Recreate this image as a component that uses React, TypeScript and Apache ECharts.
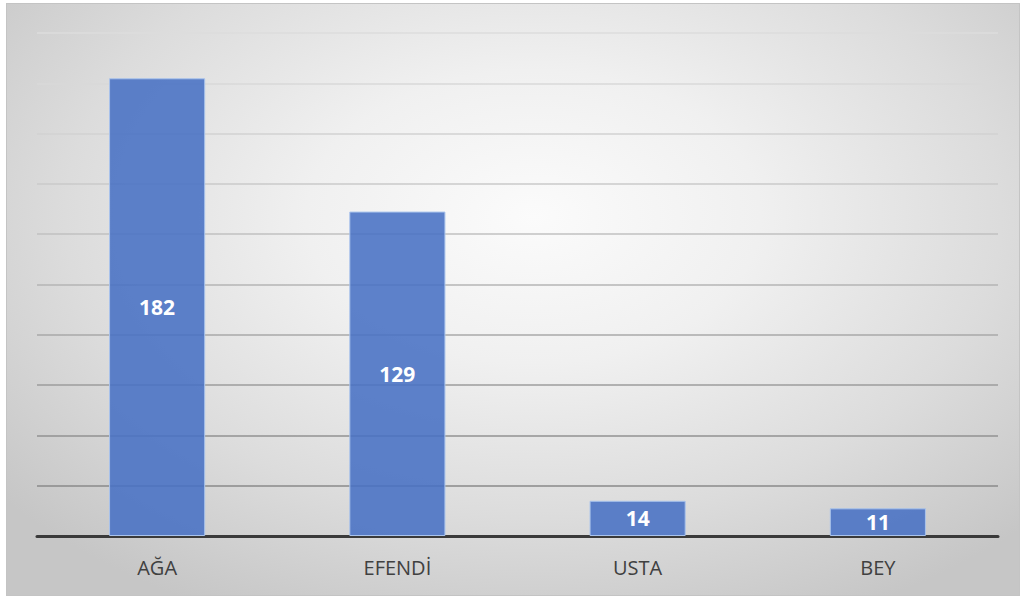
import React, { useEffect, useRef } from "react";
import * as echarts from "echarts";

const categories = ["AĞA", "EFENDİ", "USTA", "BEY"];
const values = [182, 129, 14, 11];
const gridColors = [
  "#dcdcdc", "#d8d8d8", "#d2d2d2", "#cacaca", "#c0c0c0",
  "#b4b4b4", "#a8a8a8", "#9c9c9c", "#929292", "#8a8a8a", "#8a8a8a",
];

export default function App() {
  const ref = useRef<HTMLDivElement>(null);
  useEffect(() => {
    if (!ref.current) return;
    const chart = echarts.init(ref.current, undefined, { renderer: "svg" });
    chart.setOption({
      animation: false,
      backgroundColor: "transparent",
      grid: { left: 37, right: 24, top: 33, bottom: 63 },
      xAxis: {
        type: "category",
        data: categories,
        axisTick: { show: false },
        axisLine: { lineStyle: { color: "#3a3a3a", width: 3 } },
        axisLabel: {
          color: "#404040",
          fontSize: 20,
          fontFamily: "Open Sans, sans-serif",
          margin: 21,
        },
      },
      yAxis: {
        type: "value",
        min: 0,
        max: 200,
        interval: 20,
        axisLabel: { show: false },
        axisLine: { show: false },
        axisTick: { show: false },
        splitLine: { lineStyle: { color: [...gridColors].reverse(), width: 1.5 } },
      },
      series: [
        {
          type: "bar",
          data: values,
          barWidth: "40%",
          itemStyle: {
            color: "rgba(72,113,196,0.88)",
            borderColor: "#a9c3ec",
            borderWidth: 1,
          },
          label: {
            show: true,
            position: "inside",
            color: "#ffffff",
            fontSize: 21,
            fontWeight: "bold",
            fontFamily: "Open Sans, sans-serif",
          },
        },
      ],
    });
    return () => chart.dispose();
  }, []);
  return (
    <div style={{ position: "fixed", left: 0, top: 0, width: 1022, height: 599, background: "#ffffff" }}>
      <div
        style={{
          position: "absolute",
          left: 6,
          top: 3,
          width: 1014,
          height: 593,
          boxSizing: "border-box",
          border: "1px solid #c4c4c4",
          background:
            "radial-gradient(ellipse 68% 75% at 52% 36%, #fbfbfb 0%, #f0f0f0 33%, #dcdcdc 68%, #c6c6c6 100%)",
        }}
      />
      <div ref={ref} style={{ position: "absolute", left: 0, top: 0, width: 1022, height: 599 }} />
    </div>
  );
}
